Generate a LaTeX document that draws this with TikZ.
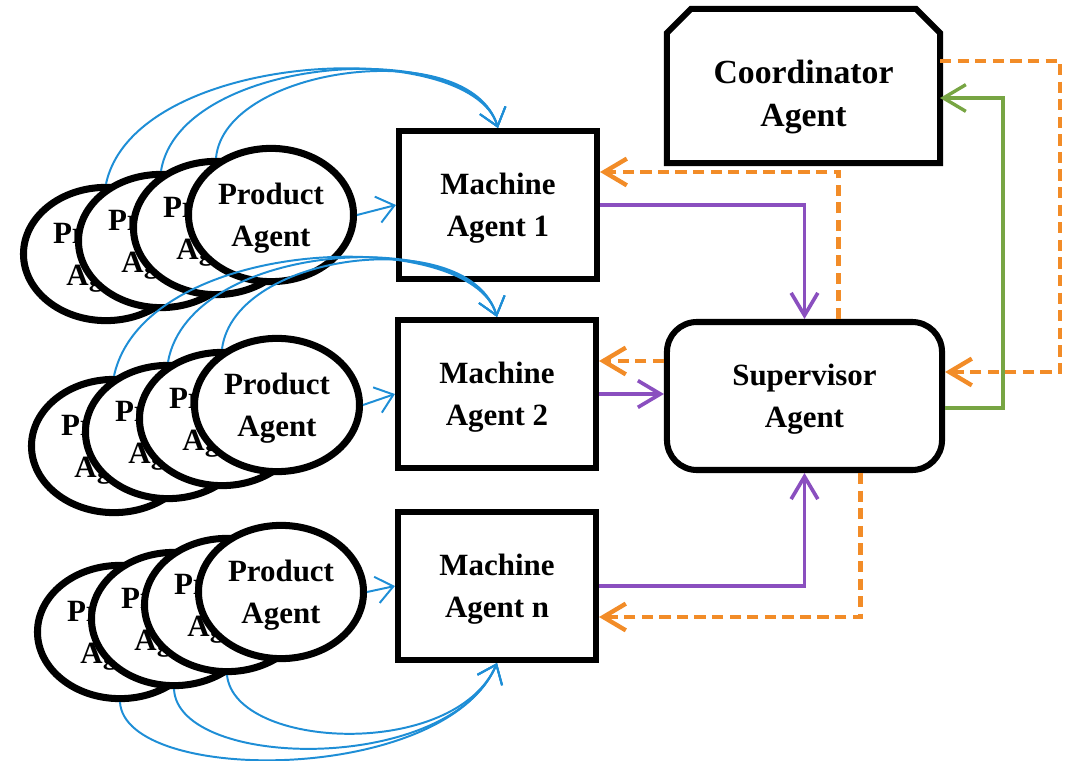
\documentclass[tikz,border=0pt]{standalone}
\usepackage{fontspec}
\setmainfont{Liberation Serif}
\usetikzlibrary{arrows.meta,calc,shapes.geometric}
\definecolor{cblue}{RGB}{30,142,214}
\definecolor{corange}{RGB}{242,140,40}
\definecolor{cpurple}{RGB}{138,79,191}
\definecolor{cgreen}{RGB}{119,165,67}
\tikzset{
  txt/.style={font={\fontsize{22}{30}\selectfont\bfseries}, align=center, text depth=0pt},
  prod/.style={ellipse, draw, line width=5pt, fill=white, minimum width=4.125cm,
    minimum height=3.33cm, inner sep=0pt, txt},
  mach/.style={rectangle, draw, line width=4.3pt, fill=white, minimum width=4.95cm,
    minimum height=3.7cm, inner sep=0pt, txt},
  supbox/.style={rectangle, draw, line width=4.3pt, fill=white, rounded corners=0.75cm,
    minimum width=6.875cm, minimum height=3.7cm, inner sep=0pt, txt},
  coordbox/.style={rectangle, line width=4.3pt, minimum width=6.675cm,
    minimum height=3.7cm, inner sep=0pt, align=center, text depth=0pt,
    font={\fontsize{24}{30.5}\selectfont\bfseries}},
  outline/.style={draw, line width=4.3pt, line join=miter},
  barrow/.style={draw=cblue, line width=1.4pt,
    -{Straight Barb[length=12pt, width=19pt]}},
  parrow/.style={draw=cpurple, line width=2.6pt, line join=miter,
    -{Straight Barb[length=16pt, width=19pt]}},
  garrow/.style={draw=cgreen, line width=2.4pt, line join=miter,
    -{Straight Barb[length=16pt, width=19pt]}},
  oarrow/.style={draw=corange, line width=3.1pt, line join=miter,
    dash pattern=on 8pt off 4.5pt,
    -{Straight Barb[length=16pt, width=19pt]}},
}
\begin{document}
\begin{tikzpicture}[x=0.025cm, y=-0.025cm]
\useasboundingbox (0,0) rectangle (1067,761);

% ---- product agent groups
\node[prod] (g1a) at (106,254) {Product\\Agent};
\node[prod] (g1b) at (161,241) {Product\\Agent};
\node[prod] (g1c) at (216,228) {Product\\Agent};
\node[prod] (g1f) at (271,215) {Product\\Agent};

\node[prod] (g2a) at (114,446) {Product\\Agent};
\node[prod] (g2b) at (168,432) {Product\\Agent};
\node[prod] (g2c) at (222,419) {Product\\Agent};
\node[prod] (g2f) at (277,405) {Product\\Agent};

\node[prod] (g3a) at (120,632) {Product\\Agent};
\node[prod] (g3b) at (174,619) {Product\\Agent};
\node[prod] (g3c) at (227,605) {Product\\Agent};
\node[prod] (g3f) at (281,592) {Product\\Agent};

% ---- machine agents
\node[mach] (m1) at (498,205) {Machine\\Agent 1};
\node[mach] (m2) at (497,394) {Machine\\Agent 2};
\node[mach] (mn) at (497,586) {Machine\\Agent n};

% ---- supervisor and coordinator
\node[supbox] (sup) at (804.5,396) {Supervisor\\Agent};
\node[coordbox] (coord) at (803.5,93) {Coordinator\\Agent};
\draw[outline] ($(coord.south west)+(0,0.175cm)$) -- ($(coord.north west)+(0,-0.425cm)$)
  -- ($(coord.north west)+(0.6cm,0.175cm)$) -- ($(coord.north east)+(-0.6cm,0.175cm)$)
  -- ($(coord.north east)+(0,-0.425cm)$) -- ($(coord.south east)+(0,0.175cm)$) -- cycle;

% ---- blue arrows product -> machine
\draw[barrow] (g1f.east) -- (m1.west);
\draw[barrow] (g2f.east) -- (m2.west);
\draw[barrow] (g3f.east) -- (mn.west);

\draw[barrow] (g1a.north) .. controls (135,50) and (470,35) .. (m1.north);
\draw[barrow] (g1b.north) .. controls (180,55) and (470,35) .. (m1.north);
\draw[barrow] (g1c.north) .. controls (225,65) and (470,35) .. (m1.north);

\draw[barrow] (g2a.north) .. controls (145,235) and (470,225) .. (m2.north);
\draw[barrow] (g2b.north) .. controls (190,240) and (470,225) .. (m2.north);
\draw[barrow] (g2c.north) .. controls (235,250) and (470,225) .. (m2.north);

\draw[barrow] (g3a.south) .. controls (125,785) and (445,785) .. (mn.south);
\draw[barrow] (g3b.south) .. controls (178,770) and (450,775) .. (mn.south);
\draw[barrow] (g3c.south) .. controls (235,750) and (455,760) .. (mn.south);

% ---- helper coordinates
\coordinate (c1) at ([yshift=0.8cm]coord.east);
\coordinate (c2) at ([yshift=-0.125cm]coord.east);
\coordinate (s1) at ([yshift=0.6cm]sup.east);
\coordinate (s2) at ([yshift=-0.3cm]sup.east);
\coordinate (s3) at ([xshift=0.85cm]sup.north);
\coordinate (s4) at ([yshift=0.875cm]sup.west);
\coordinate (s5) at ([xshift=1.4cm]sup.south);
\coordinate (m1a) at ([yshift=0.825cm]m1.east);
\coordinate (mna) at ([yshift=-0.775cm]mn.east);

% ---- purple
\draw[parrow] (m1.east) -| (sup.north);
\draw[parrow] (m2.east) -- (m2.east -| sup.west);
\draw[parrow] (mn.east) -| (sup.south);

% ---- green
\draw[garrow] (s2) -- ++(58,0) |- (c2);

% ---- orange dashed
\draw[oarrow] (c1) -- ++(120,0) |- (s1);
\draw[oarrow] (s3) |- (m1a);
\draw[oarrow] (s4) -- (s4 -| m2.east);
\draw[oarrow] (s5) |- (mna);
\end{tikzpicture}
\end{document}
